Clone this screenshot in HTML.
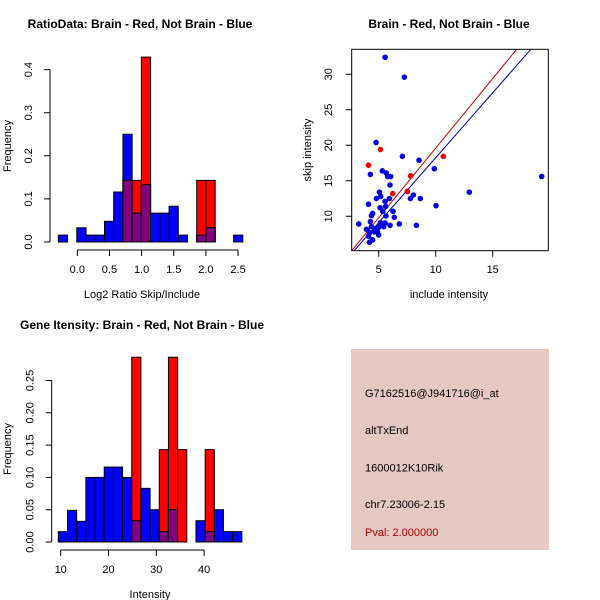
<!DOCTYPE html>
<html><head><meta charset="utf-8"><style>
body{margin:0;background:#fff;}
svg{display:block;font-family:"Liberation Sans",sans-serif;}
</style></head><body>
<svg id="s" width="600" height="600" viewBox="0 0 600 600">
<rect width="600" height="600" fill="#fff"/>
<g id="p1"></g>
<g id="p2"></g>
<g id="p3"></g>
<g id="p4">
<rect x="351" y="349" width="198" height="201" fill="#e6c8c2"/>
<text x="365" y="397" font-size="11" fill="#000">G7162516@J941716@i_at</text>
<text x="365" y="434" font-size="11" fill="#000">altTxEnd</text>
<text x="365" y="471.5" font-size="11" fill="#000">1600012K10Rik</text>
<text x="365" y="508" font-size="11" fill="#000">chr7.23006-2.15</text>
<text x="365" y="536" font-size="11" fill="#b00000">Pval: 2.000000</text>
</g>
</svg>
<script>
// ---- Ratio histogram data ----
const ratioBinStart = -0.295;
const ratioBinWidth = 0.1435;
const ratioBlue = [0.016,0,0.033,0.016,0.016,0.048,0.116,0.25,0.067,0.133,0.067,0.067,0.083,0.016,0,0.016,0.033,0,0,0.016];
const ratioRed  = [0,0,0,0,0,0,0,0.143,0.143,0.429,0,0,0,0,0,0.143,0.143,0,0,0];
const ratioXTicks = ["0.0","0.5","1.0","1.5","2.0","2.5"];
const ratioYTicks = ["0.0","0.1","0.2","0.3","0.4"];
// ---- Gene intensity histogram data ----
const intBinStart = 9.5;
const intBinWidth = 1.92;
const intBlue = [0.016,0.049,0.032,0.1,0.1,0.116,0.116,0.1,0.033,0.083,0.05,0.016,0.05,0,0,0.033,0.016,0.05,0.016,0.016];
const intRed  = [0,0,0,0,0,0,0,0,0.286,0,0,0.143,0.286,0.143,0,0,0.143,0,0,0];
const intXTicks = ["10","20","30","40"];
const intYTicks = ["0.00","0.05","0.10","0.15","0.20","0.25"];
// ---- Scatter data ----
const blueX = [5.56,7.25,4.77,7.08,8.54,9.88,4.27,5.32,5.67,5.79,6.05,5.99,5.06,4.8,5.18,5.56,5.94,7.78,8.04,8.65,7.51,12.95,19.3,10.03,4.1,5.12,5.61,5.35,4.47,4.36,6.26,6.37,5.64,4.27,3.25,6.81,5.99,8.31,3.92,4.36,4.65,5.0,5.29,5.56,5.44,4.88,4.62,4.2,4.1,5.0,4.42,4.19,4.47,5.15];
const blueY = [32.4,29.6,20.4,18.45,17.9,16.7,15.9,16.4,16.1,15.6,15.6,14.4,13.4,12.5,12.8,12.1,12.5,12.5,13.0,12.5,13.5,13.4,15.6,11.5,11.7,11.2,11.4,10.7,10.4,10.1,10.7,9.86,10.05,9.25,8.92,8.92,8.73,8.73,8.17,8.54,8.26,8.45,8.78,9.06,8.54,7.8,7.8,7.7,7.2,7.37,6.7,6.34,6.67,9.1];
const redX = [4.1,5.15,7.8,6.23,7.51,10.67];
const redY = [17.2,19.4,15.7,13.2,13.5,18.45];
const redFit = [0, 1.96];   // intercept, slope
const blueFit = [-0.05, 1.83];
const scXTicks = ["5","10","15"];
const scYTicks = ["10","15","20","25","30"];

const NS="http://www.w3.org/2000/svg";
function mk(parent,tag,attrs,txt){const e=document.createElementNS(NS,tag);for(const k in attrs)e.setAttribute(k,attrs[k]);if(txt!==undefined)e.textContent=txt;parent.appendChild(e);return e;}

function hist(g,cfg){
  const sx=v=>cfg.x0+(v-cfg.xv0)*cfg.xs, sy=v=>cfg.y0-v*cfg.ys;
  const n=cfg.blue.length;
  for(let i=0;i<n;i++){
    const a=cfg.start+i*cfg.w, b=a+cfg.w, x=sx(a), wd=sx(b)-sx(a);
    const bl=cfg.blue[i], rd=cfg.red[i];
    if(bl>0){const r=mk(g,'rect',{x:x,y:sy(bl),width:wd,height:sy(0)-sy(bl),fill:'#0000ff',stroke:'#000','stroke-width':1});
      
      }
    if(rd>0){const r=mk(g,'rect',{x:x,y:sy(rd),width:wd,height:sy(0)-sy(rd),fill:'#ff0000',stroke:'#000','stroke-width':1});
      
      
      const m=Math.min(bl,rd);
      if(m>0){const p=mk(g,'rect',{x:x,y:sy(m),width:wd,height:sy(0)-sy(m),fill:'#800080',stroke:'#000','stroke-width':1});
        
        }}
  }
  const xt=cfg.xt.map(Number), yt=cfg.yt.map(Number);
  const ax=mk(g,'path',{d:`M${sx(xt[0])},${cfg.axY}H${sx(xt[xt.length-1])}`+xt.map(v=>`M${sx(v)},${cfg.axY}v6`).join(''),stroke:'#000',fill:'none'});
  
  
  cfg.xt.forEach(t=>{const e=mk(g,'text',{x:sx(Number(t)),y:cfg.axY+23,'font-size':11,'text-anchor':'middle'},t);
    
    });
  const ay=mk(g,'path',{d:`M${cfg.axX},${sy(yt[0])}V${sy(yt[yt.length-1])}`+yt.map(v=>`M${cfg.axX},${sy(v)}h-6`).join(''),stroke:'#000',fill:'none'});
  
  
  cfg.yt.forEach(t=>{const yy=sy(Number(t));const lx=cfg.axX-18;const e=mk(g,'text',{x:lx,y:yy,'font-size':11,'text-anchor':'middle',transform:`rotate(-90 ${lx} ${yy})`},t);
    
    });
  let e=mk(g,'text',{x:cfg.tx,y:cfg.ty,'font-size':12,'font-weight':'bold','text-anchor':'middle'},cfg.title);
  
  
  e=mk(g,'text',{x:cfg.xlx,y:cfg.xly,'font-size':11,'text-anchor':'middle'},cfg.xl);
  
  
  e=mk(g,'text',{x:cfg.ylx,y:cfg.yly,'font-size':11,'text-anchor':'middle',transform:`rotate(-90 ${cfg.ylx} ${cfg.yly})`},'Frequency');
  
  
}

hist(document.getElementById('p1'),{start:ratioBinStart,w:ratioBinWidth,blue:ratioBlue,red:ratioRed,
  x0:77.3,xv0:0,xs:64.3,y0:242,ys:431,axY:250,axX:50,xt:ratioXTicks,yt:ratioYTicks,
  title:'RatioData: Brain - Red, Not Brain - Blue',tx:140,ty:28,xl:'Log2 Ratio Skip/Include',xlx:142,xly:298,ylx:11,yly:146});
hist(document.getElementById('p3'),{start:intBinStart,w:intBinWidth,blue:intBlue,red:intRed,
  x0:60.7,xv0:10,xs:4.78,y0:542,ys:646,axY:550,axX:51.7,xt:intXTicks,yt:intYTicks,
  title:'Gene Itensity: Brain - Red, Not Brain - Blue',tx:142,ty:329,xl:'Intensity',xlx:150,xly:598,ylx:11,yly:449});

(function(){
  const g=document.getElementById('p2');
  const L=351.7,R=548.3,T=49.3,B=250.7;
  const sx=v=>378.7+(v-5)*11.4, sy=v=>216.3-(v-10)*7.1;
  const xmin=(L-378.7)/11.4+5, xmax=(R-378.7)/11.4+5;
  const cp=mk(g,'clipPath',{id:'cp'});mk(cp,'rect',{x:L,y:T,width:R-L,height:B-T});
  [[blueFit,'#0000aa','blue-fit-line'],[redFit,'#cc0000','red-fit-line']].forEach(([f,c,n])=>{
    const l=mk(g,'line',{x1:sx(xmin),y1:sy(f[0]+f[1]*xmin),x2:sx(xmax),y2:sy(f[0]+f[1]*xmax),stroke:c,'stroke-width':1,'clip-path':'url(#cp)'});
    
    
  });
  blueX.forEach((x,i)=>{const c=mk(g,'circle',{cx:sx(x),cy:sy(blueY[i]),r:2.8,fill:'#0000dd'});
    
    });
  redX.forEach((x,i)=>{const c=mk(g,'circle',{cx:sx(x),cy:sy(redY[i]),r:2.8,fill:'#ee0000'});
    
    });
  const box=mk(g,'rect',{x:L,y:T,width:R-L,height:B-T,fill:'none',stroke:'#000'});
  
  
  const xa=mk(g,'path',{d:scXTicks.map(t=>`M${sx(+t)},${B}v6`).join(''),stroke:'#000'});
  
  
  scXTicks.forEach(t=>{const e=mk(g,'text',{x:sx(+t),y:273,'font-size':11,'text-anchor':'middle'},t);
    
    });
  const ya=mk(g,'path',{d:scYTicks.map(t=>`M${L},${sy(+t)}h-6`).join(''),stroke:'#000'});
  
  
  scYTicks.forEach(t=>{const yy=sy(+t);const e=mk(g,'text',{x:332,y:yy,'font-size':11,'text-anchor':'middle',transform:`rotate(-90 332 ${yy})`},t);
    
    });
  let e=mk(g,'text',{x:449,y:28,'font-size':12,'font-weight':'bold','text-anchor':'middle'},'Brain - Red, Not Brain - Blue');
  
  
  e=mk(g,'text',{x:449,y:298,'font-size':11,'text-anchor':'middle'},'include intensity');
  
  
  e=mk(g,'text',{x:311,y:150,'font-size':11,'text-anchor':'middle',transform:'rotate(-90 311 150)'},'skip intensity');
  
  
})();
</script>
</body></html>
